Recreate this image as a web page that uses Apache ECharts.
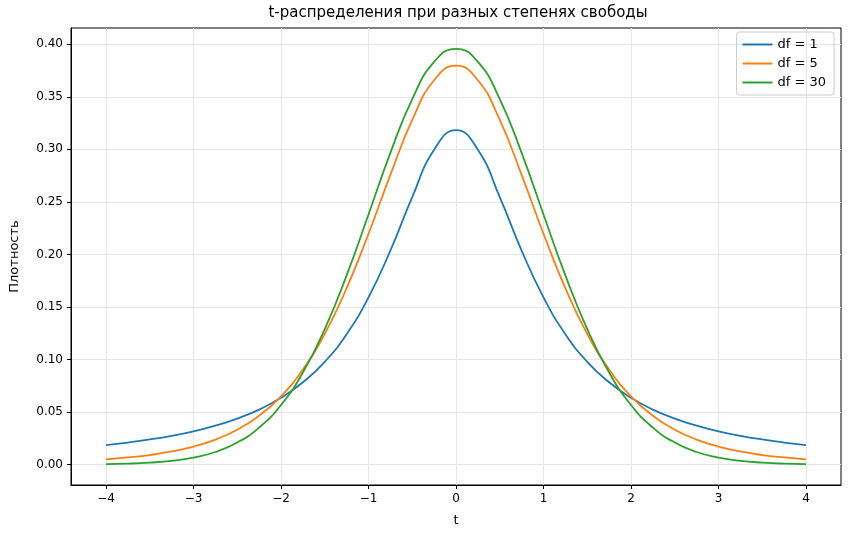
<!DOCTYPE html>
<html>
<head>
<meta charset="utf-8">
<script src="https://cdn.jsdelivr.net/npm/echarts@6/dist/echarts.min.js"></script>
<style>html,body{margin:0;padding:0;background:#fff}#c{width:856px;height:534px}</style>
</head>
<body>
<div id="c"></div>
<script>
// t values (right half; left half mirrored)
const tHalf = [0, 0.25, 0.5, 0.75, 1, 1.25, 1.5, 1.75, 2, 2.25, 2.5, 2.75, 3, 3.25, 3.5, 3.75, 4];
const df1 = [0.3183, 0.2996, 0.2546, 0.2037, 0.1592, 0.1242, 0.0979, 0.0784, 0.0637, 0.0524, 0.0439, 0.0372, 0.0318, 0.0275, 0.0240, 0.0211, 0.0187];
const df5 = [0.3796, 0.3657, 0.3279, 0.2757, 0.2197, 0.1679, 0.1245, 0.0905, 0.0651, 0.0466, 0.0333, 0.0239, 0.0173, 0.0126, 0.0092, 0.0069, 0.0051];
const df30 = [0.3956, 0.3831, 0.3478, 0.2966, 0.2380, 0.1801, 0.1290, 0.0877, 0.0568, 0.0353, 0.0211, 0.0121, 0.0068, 0.0037, 0.0020, 0.0010, 0.0005];
const xTicks = [-4, -3, -2, -1, 0, 1, 2, 3, 4];
const yTicks = [0, 0.05, 0.1, 0.15, 0.2, 0.25, 0.3, 0.35, 0.4];

function full(vals) {
  const pts = [];
  for (let i = tHalf.length - 1; i > 0; i--) pts.push([-tHalf[i], vals[i]]);
  for (let i = 0; i < tHalf.length; i++) pts.push([tHalf[i], vals[i]]);
  return pts;
}

const chart = echarts.init(document.getElementById('c'));
const font = 'DejaVu Sans';
const line = (name, vals, color) => ({
  name: name, type: 'line', data: full(vals), smooth: 0.5, showSymbol: false,
  lineStyle: { color: color, width: 1.8 }, itemStyle: { color: color }
});

chart.setOption({
  animation: false,
  textStyle: { fontFamily: font },
  title: { text: 't-распределения при разных степенях свободы', left: 453, top: 1, textAlign: 'center',
    textStyle: { fontSize: 15, fontWeight: 'normal', color: '#000', fontFamily: font } },
  legend: {
    orient: 'vertical', right: 22, top: 32, itemGap: 6, itemWidth: 30, itemHeight: 2,
    icon: 'rect', borderColor: '#ccc', borderWidth: 1, borderRadius: 3, padding: [6, 8, 6, 6],
    textStyle: { fontSize: 13, color: '#000', fontFamily: font }
  },
  grid: { left: 67, right: 15, top: 28, bottom: 49, show: true, borderColor: '#000', borderWidth: 1 },
  xAxis: {
    type: 'value', min: -4.4, max: 4.4, name: 't', nameLocation: 'middle', nameGap: 29,
    nameTextStyle: { fontSize: 13, color: '#000' },
    axisLine: { onZero: false, lineStyle: { color: '#000' } },
    axisTick: { customValues: xTicks, length: 4, lineStyle: { color: '#000' } },
    axisLabel: { customValues: xTicks, fontSize: 12, color: '#000',
      formatter: v => String(v).replace('-', '\u2212') },
    splitLine: { show: true, lineStyle: { color: '#e6e6e6' } }
  },
  yAxis: {
    type: 'value', min: -0.0193, max: 0.4154, name: 'Плотность', nameLocation: 'middle', nameGap: 50,
    nameTextStyle: { fontSize: 13, color: '#000' },
    axisLine: { show: true, onZero: false, lineStyle: { color: '#000' } },
    axisTick: { show: true, customValues: yTicks, length: 4, lineStyle: { color: '#000' } },
    axisLabel: { customValues: yTicks, fontSize: 12, color: '#000', formatter: v => v.toFixed(2) },
    splitLine: { show: true, lineStyle: { color: '#e6e6e6' } }
  },
  series: [
    line('df = 1', df1, '#1f77b4'),
    line('df = 5', df5, '#ff7f0e'),
    line('df = 30', df30, '#2ca02c')
  ]
});
</script>
</body>
</html>
